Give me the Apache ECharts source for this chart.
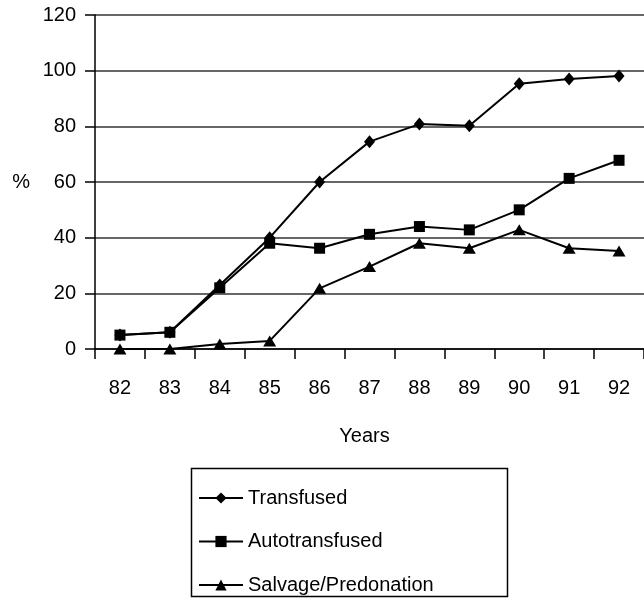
<!DOCTYPE html>
<html>
<head>
<meta charset="utf-8">
<script src="https://cdn.jsdelivr.net/npm/echarts@6/dist/echarts.min.js"></script>
<style>
  html, body { margin: 0; padding: 0; background: #fff; }
  #chart { width: 644px; height: 608px; }
</style>
</head>
<body>
<div id="chart"></div>
<script>
// Years on the horizontal axis (19xx)
const years = ['82', '83', '84', '85', '86', '87', '88', '89', '90', '91', '92'];

// Percentages per year
const transfused = [5, 6, 23, 40, 60, 74.5, 80.8, 80.2, 95.3, 97, 98.1];
const autotransfused = [5, 6, 22, 38, 36.2, 41.2, 44, 42.8, 50, 61.3, 67.8];
const salvagePredonation = [0, 0, 1.8, 2.9, 21.8, 29.6, 38, 36.2, 42.8, 36.2, 35.2];

// Value axis ticks
const yTicks = [0, 20, 40, 60, 80, 100, 120];

const FONT = 'Liberation Sans, Arial, sans-serif';
const FS = 20;

const chart = echarts.init(document.getElementById('chart'), null, { renderer: 'canvas' });

function lineSeries(name, data, symbol, size) {
  return {
    name: name,
    type: 'line',
    data: data,
    symbol: symbol,
    symbolSize: size,
    showAllSymbol: true,
    lineStyle: { color: '#000', width: 2 },
    itemStyle: { color: '#000', borderWidth: 0 },
    emphasis: { disabled: true },
    animation: false,
    z: 3
  };
}

chart.setOption({
  animation: false,
  backgroundColor: '#fff',
  textStyle: { fontFamily: FONT, color: '#000' },
  grid: { left: 95, top: 15, width: 552, height: 334, containLabel: false },
  xAxis: {
    type: 'category',
    data: years,
    boundaryGap: true,
    name: 'Years',
    nameLocation: 'middle',
    nameGap: 77,
    nameTextStyle: { fontFamily: FONT, fontSize: FS, color: '#000', padding: [0, 10, 0, 0] },
    axisLine: { show: true, lineStyle: { color: '#000', width: 1.5 } },
    axisTick: { show: true, inside: false, length: 10, alignWithLabel: false, lineStyle: { color: '#000', width: 1.5 } },
    axisLabel: { margin: 29, fontFamily: FONT, fontSize: FS, color: '#000' },
    splitLine: { show: false }
  },
  yAxis: {
    type: 'value',
    min: yTicks[0],
    max: yTicks[yTicks.length - 1],
    interval: yTicks[1] - yTicks[0],
    name: '%',
    nameLocation: 'middle',
    nameRotate: 0,
    nameGap: 65,
    nameTextStyle: { fontFamily: FONT, fontSize: FS, color: '#000' },
    axisLine: { show: true, lineStyle: { color: '#000', width: 1.5 } },
    axisTick: { show: true, inside: false, length: 10, lineStyle: { color: '#000', width: 1.5 } },
    axisLabel: { margin: 19, fontFamily: FONT, fontSize: FS, color: '#000' },
    splitLine: { show: true, lineStyle: { color: '#333', width: 1.5 } }
  },
  legend: {
    orient: 'vertical',
    left: 198,
    top: 488,
    padding: 0,
    itemWidth: 44,
    itemHeight: 14,
    itemGap: 23.5,
    textStyle: { fontFamily: FONT, fontSize: FS, color: '#000', lineHeight: 20 },
    data: ['Transfused', 'Autotransfused', 'Salvage/Predonation']
  },
  graphic: [{
    type: 'rect',
    shape: { x: 191.5, y: 468.5, width: 316, height: 128 },
    style: { fill: 'none', stroke: '#000', lineWidth: 1.5 },
    silent: true
  }],
  series: [
    lineSeries('Transfused', transfused, 'diamond', [11, 13]),
    lineSeries('Autotransfused', autotransfused, 'rect', [11, 11]),
    lineSeries('Salvage/Predonation', salvagePredonation, 'triangle', [13, 11])
  ]
});
</script>
</body>
</html>
